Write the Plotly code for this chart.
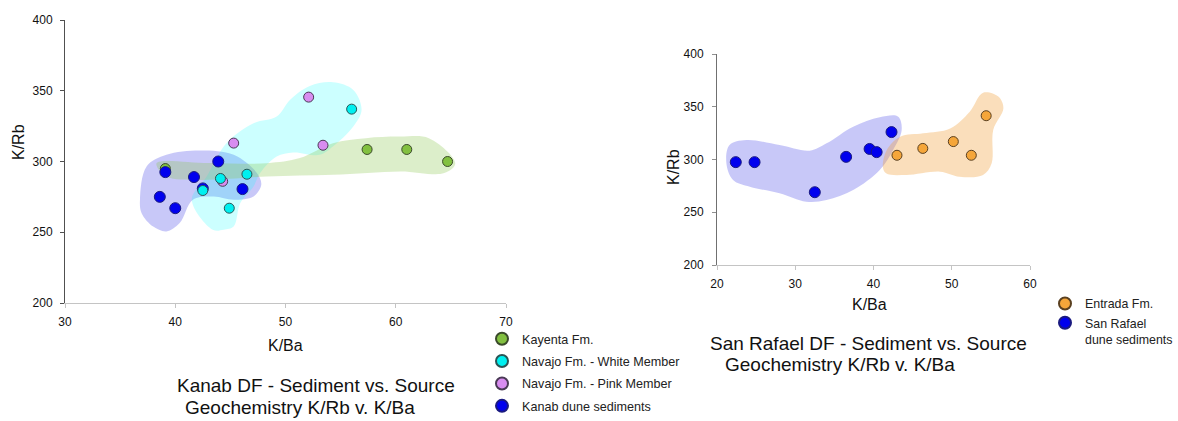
import plotly.graph_objects as go

# ---------------- data: Kanab DF (left) ----------------
kayenta_x = [39.1, 57.4, 61.0, 64.7]
kayenta_y = [295, 308.5, 308.5, 300]
white_x = [56.0, 46.5, 44.1, 42.5, 44.9]
white_y = [337, 291, 288, 279.5, 267]
pink_x = [52.1, 53.4, 45.3, 44.3]
pink_y = [345.5, 311.5, 313, 286]
kanab_x = [38.6, 40.0, 39.1, 41.7, 43.9, 46.1, 42.5]
kanab_y = [275, 267, 292.5, 289, 300, 280.5, 281]

# hand-drawn grouping envelopes (data units)
kanab_env_x = [36.8, 37.4, 39.2, 42.2, 45.3, 47.4, 47.8, 47.1, 45.3, 43.5, 41.6, 40.4, 39.2, 38.0, 36.95, 36.8]
kanab_env_y = [273, 296.5, 304.7, 307.8, 304.7, 291.8, 283.5, 275.3, 273, 275.3, 273, 256.5, 250.6, 254, 263.5, 273]
navajo_env_x = [43.4, 41.5, 42.85, 44.66, 47.1, 49.2, 50.4, 52.2, 54.3, 56.15, 56.9, 56.15, 54.3, 53.1, 50.7, 49.2, 47.7, 47.1, 45.9, 45.3, 44.4, 43.4]
navajo_env_y = [251.8, 273, 289.4, 313, 327, 331.8, 343.5, 353.4, 356, 350.6, 336.5, 324.7, 310.6, 304.7, 306.4, 303.5, 291.8, 282.4, 270.6, 254, 251.8, 251.8]
kayenta_env_x = [38.3, 43.0, 48.3, 51.3, 54.3, 57.3, 60.4, 63.0, 65.4, 64.4, 60.4, 54.3, 48.3, 42.2, 39.2, 38.3]
kayenta_env_y = [298.8, 299.0, 298.8, 302.4, 312.9, 316.5, 317.6, 316.5, 298.8, 291.8, 293.0, 290.6, 289.4, 287.0, 289.4, 298.8]

# ---------------- data: San Rafael DF (right) ----------------
entrada_x = [43.0, 46.3, 50.2, 52.5, 54.4]
entrada_y = [304, 310.5, 317, 304, 341.5]
sanrafael_x = [22.4, 24.8, 32.5, 36.5, 39.5, 40.4, 42.3]
sanrafael_y = [297.5, 297.5, 269, 302.5, 310, 307, 326]

sanrafael_env_x = [21.2, 21.6, 23.75, 28.0, 31.85, 34.0, 37.4, 40.8, 43.15, 43.6, 42.5, 40.8, 37.4, 34.0, 31.4, 28.0, 24.2, 22.05, 21.2]
sanrafael_env_y = [296.4, 313.7, 318.5, 313.7, 308.4, 315.3, 331.1, 340.0, 340.6, 328, 309, 290, 271, 261.6, 260, 268, 274.2, 280.6, 296.4]
entrada_env_x = [41.2, 41.7, 43.4, 46.35, 49.8, 52.3, 54.0, 55.95, 56.6, 55.3, 55.1, 54.0, 51.0, 48.5, 44.2, 41.6, 41.2]
entrada_env_y = [293.2, 309, 321.6, 324.8, 329.5, 345.3, 363.3, 359.6, 348.5, 328, 296.4, 285.3, 283.7, 288.5, 285.3, 286.9, 293.2]

FONT = "Liberation Sans, Arial, sans-serif"
W, H = 1178, 421

fig = go.Figure()


def envelope(xs, ys, color, xa, ya):
    fig.add_trace(go.Scatter(x=xs, y=ys, mode="lines", fill="toself", fillcolor=color,
                             line=dict(width=0, shape="spline", smoothing=1.0, color=color),
                             hoverinfo="skip", showlegend=False, xaxis=xa, yaxis=ya))


def points(xs, ys, name, color, lcolor, size, xa, ya, legend, rank):
    fig.add_trace(go.Scatter(x=xs, y=ys, mode="markers", name=name, legendgroup=name,
                             marker=dict(color=color, size=size, line=dict(color=lcolor, width=1)),
                             xaxis=xa, yaxis=ya, legend=legend, legendrank=rank))


# left panel
envelope(kanab_env_x, kanab_env_y, "rgba(72,72,232,0.30)", "x", "y")
envelope(navajo_env_x, navajo_env_y, "rgba(0,255,255,0.20)", "x", "y")
envelope(kayenta_env_x, kayenta_env_y, "rgba(140,200,80,0.30)", "x", "y")
points(kayenta_x, kayenta_y, "Kayenta Fm.", "#82c040", "#3a4a2a", 10, "x", "y", "legend", 1)
points(pink_x, pink_y, "Navajo Fm. - Pink Member", "#d88cf0", "#4a3a55", 10, "x", "y", "legend", 3)
points(kanab_x, kanab_y, "Kanab dune sediments", "#0000ee", "#1a1a80", 11, "x", "y", "legend", 4)
points(white_x, white_y, "Navajo Fm. - White Member", "#00f0f0", "#2a5555", 10, "x", "y", "legend", 2)

# right panel
envelope(sanrafael_env_x, sanrafael_env_y, "rgba(72,72,232,0.30)", "x2", "y2")
envelope(entrada_env_x, entrada_env_y, "rgba(240,160,60,0.35)", "x2", "y2")
points(entrada_x, entrada_y, "Entrada Fm.", "#f5a63a", "#5a4020", 10, "x2", "y2", "legend2", 1)
points(sanrafael_x, sanrafael_y, "San Rafael<br>dune sediments", "#0000ee", "#1a1a80", 11, "x2", "y2", "legend2", 2)


def px_x(p):
    return p / W


def px_y(p):
    return 1 - p / H


axis_common = dict(showgrid=False, zeroline=False, ticks="outside", ticklen=4, automargin=False,
                   tickfont=dict(family=FONT, size=12, color="#111"), mirror=False)

fig.update_layout(
    template="none", autosize=False,
    width=W, height=H, margin=dict(l=0, r=0, t=0, b=0, pad=0),
    paper_bgcolor="white", plot_bgcolor="rgba(0,0,0,0)",
    font=dict(family=FONT, color="#222"),
    xaxis=dict(domain=[px_x(65), px_x(506)], range=[30, 70], dtick=10, anchor="y",
               showline=True, linecolor="#c4c4c4", tickcolor="#c4c4c4", ticklabelstandoff=4, **axis_common),
    yaxis=dict(domain=[px_y(303), px_y(20)], range=[200, 400], dtick=50, anchor="x",
               showline=True, linecolor="#505050", tickcolor="#505050", ticklabelstandoff=5, **axis_common),
    xaxis2=dict(domain=[px_x(717), px_x(1030)], range=[20, 60], dtick=10, anchor="y2",
                showline=True, linecolor="#c4c4c4", tickcolor="#c4c4c4", ticklabelstandoff=4, **axis_common),
    yaxis2=dict(domain=[px_y(265), px_y(54)], range=[200, 400], dtick=50, anchor="x2",
                showline=True, linecolor="#707070", tickcolor="#909090", ticklabelstandoff=6, **axis_common),
    legend=dict(x=px_x(482), y=0.0, xanchor="left", yanchor="bottom",
                font=dict(family=FONT, size=12.6, color="#222"), bgcolor="rgba(0,0,0,0)",
                tracegroupgap=3, itemsizing="constant"),
    legend2=dict(x=1.0, y=px_y(289), xanchor="right", yanchor="top", valign="top",
                 font=dict(family=FONT, size=12.4, color="#222"), bgcolor="rgba(0,0,0,0)",
                 tracegroupgap=0, itemsizing="constant"),
)

ann = []


def text(x, y, s, size, xanchor="center", angle=0):
    ann.append(dict(x=px_x(x), y=px_y(y), xref="paper", yref="paper", text=s, showarrow=False,
                    xanchor=xanchor, yanchor="middle", textangle=angle,
                    font=dict(family=FONT, size=size, color="#111")))


# axis titles
text(285, 345, "K/Ba", 16)
text(18, 142, "K/Rb", 16, angle=-90)
text(869, 304, "K/Ba", 16)
text(673, 167, "K/Rb", 16, angle=-90)
# panel captions
text(175, 385, "Kanab DF - Sediment vs. Source", 19, "left")
text(183, 407, "Geochemistry K/Rb v. K/Ba", 19, "left")
text(708, 343, "San Rafael DF - Sediment vs. Source", 19, "left")
text(723, 364, "Geochemistry K/Rb v. K/Ba", 19, "left")

fig.update_layout(annotations=ann)
fig.write_html("out.html",
               config={"responsive": False, "displayModeBar": False},
               post_script="document.body.style.margin='0px';document.body.style.overflow='hidden';")
